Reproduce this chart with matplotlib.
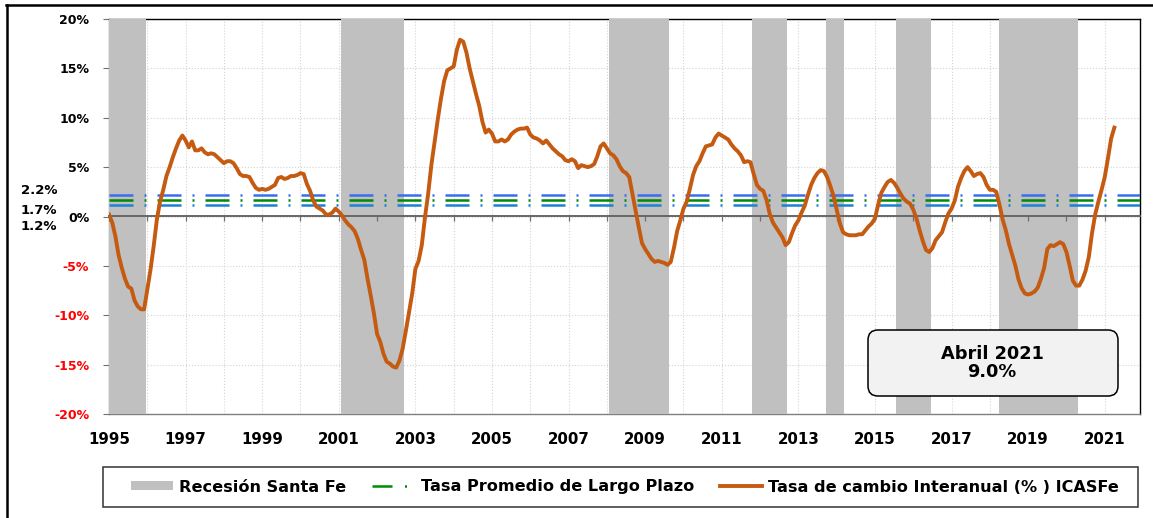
import matplotlib
matplotlib.use('Agg')
import matplotlib.pyplot as plt
import numpy as np
from matplotlib.patches import Patch, FancyBboxPatch, Rectangle
from matplotlib.lines import Line2D
from matplotlib.transforms import IdentityTransform

# ---------------- data ----------------
start_year = 1995
icasfe_1995_2000 = [0.2, -0.6, -2.0, -3.9, -5.2, -6.3, -7.1, -7.3, -8.5, -9.1, -9.4, -9.4,
                    -7.4, -5.4, -3.0, -0.3, 1.5, 2.7, 4.1, 5.0, 6.0, 6.9, 7.7, 8.2,
                    7.7, 7.0, 7.6, 6.7, 6.7, 6.9, 6.5, 6.3, 6.4, 6.3, 6.0, 5.7,
                    5.4, 5.6, 5.6, 5.4, 4.9, 4.3, 4.1, 4.1, 4.0, 3.4, 2.9, 2.7,
                    2.8, 2.7, 2.8, 3.0, 3.2, 3.9, 4.0, 3.8, 3.9, 4.1, 4.1, 4.2,
                    4.4, 4.3, 3.3, 2.6, 1.6, 1.0, 0.8, 0.6, 0.2, 0.2, 0.4, 0.8]
icasfe_2001_2006 = [0.5, 0.1, -0.4, -0.8, -1.1, -1.5, -2.3, -3.4, -4.4, -6.3, -8.0, -9.8,
                    -11.9, -12.7, -13.9, -14.7, -14.9, -15.2, -15.3, -14.6, -13.4, -11.6, -9.7, -7.8,
                    -5.3, -4.5, -2.9, -0.1, 2.3, 5.2, 7.5, 9.8, 11.9, 13.7, 14.8, 15.0,
                    15.2, 16.9, 17.9, 17.7, 16.6, 15.0, 13.7, 12.4, 11.2, 9.6, 8.5, 8.8,
                    8.4, 7.6, 7.6, 7.8, 7.6, 7.8, 8.3, 8.6, 8.8, 8.9, 8.9, 9.0,
                    8.3, 8.0, 7.9, 7.7, 7.4, 7.7, 7.3, 6.9, 6.6, 6.3, 6.1, 5.7]
icasfe_2007_2012 = [5.6, 5.8, 5.6, 4.9, 5.2, 5.1, 5.0, 5.1, 5.3, 6.1, 7.1, 7.4,
                    6.9, 6.4, 6.2, 5.8, 5.1, 4.6, 4.4, 4.0, 2.3, 0.6, -1.1, -2.7,
                    -3.3, -3.8, -4.3, -4.6, -4.5, -4.6, -4.7, -4.9, -4.6, -3.2, -1.5, -0.4,
                    0.8, 1.5, 2.8, 4.2, 5.1, 5.6, 6.4, 7.1, 7.2, 7.3, 8.0, 8.4,
                    8.2, 8.0, 7.8, 7.3, 6.9, 6.6, 6.2, 5.5, 5.6, 5.5, 4.3, 3.2,
                    2.8, 2.6, 1.7, 0.3, -0.6, -1.1, -1.6, -2.1, -2.9, -2.6, -1.7, -0.9]
icasfe_2013_2021 = [-0.4, 0.4, 1.1, 2.2, 3.2, 3.9, 4.4, 4.7, 4.6, 4.0, 3.1, 2.1,
                    0.7, -0.7, -1.6, -1.8, -1.9, -1.9, -1.9, -1.8, -1.8, -1.4, -1.0, -0.7,
                    -0.2, 1.2, 2.4, 3.0, 3.5, 3.7, 3.4, 2.9, 2.3, 1.8, 1.5, 1.3,
                    0.7, -0.2, -1.4, -2.5, -3.4, -3.6, -3.2, -2.4, -2.0, -1.6, -0.6, 0.3,
                    0.8, 1.6, 3.0, 3.9, 4.6, 5.0, 4.6, 4.1, 4.3, 4.4, 4.0, 3.2,
                    2.7, 2.7, 2.5, 1.2, -0.3, -1.4, -2.8, -3.9, -5.0, -6.4, -7.3, -7.8,
                    -7.9, -7.8, -7.6, -7.2, -6.3, -5.2, -3.3, -2.9, -3.0, -2.8, -2.6, -2.8,
                    -3.6, -5.0, -6.5, -7.0, -7.0, -6.4, -5.5, -4.1, -1.7, 0.2, 1.5, 2.7,
                    4.0, 5.9, 7.9, 9.0]

recession_starts = [1995.0, 2001.07, 2008.05, 2011.79, 2013.71, 2015.55, 2018.23]
recession_ends = [1995.96, 2002.70, 2009.62, 2012.71, 2014.20, 2016.45, 2020.29]

avg_rates = [2.2, 1.7, 1.2]
avg_labels = ['2.2%', '1.7%', '1.2%']
avg_colors = ['#3a6df2', '#008c00', '#1f7fd4']

y_ticks = [-20, -15, -10, -5, 0, 5, 10, 15, 20]
x_years = list(range(1995, 2022))

legend_labels = ['Recesión Santa Fe', 'Tasa Promedio de Largo Plazo',
                 'Tasa de cambio Interanual (% ) ICASFe']
box_text = 'Abril 2021\n9.0%'

# ---------------- figure ----------------
W, H = 1153, 518
fig = plt.figure(figsize=(W / 100, H / 100), dpi=100)
fig.patch.set_facecolor('white')
ax = fig.add_axes([109 / W, 1 - 414 / H, (1140 - 109) / W, (414 - 19) / H])

icasfe = np.array(icasfe_1995_2000 + icasfe_2001_2006 + icasfe_2007_2012 + icasfe_2013_2021)
dates = start_year + np.arange(len(icasfe)) / 12.0

orange = '#c55a11'
shade = '#c0c0c0'

for s, e in zip(recession_starts, recession_ends):
    ax.axvspan(s, e, color=shade, lw=0, zorder=2.6)

dash_style = (0, (9.6, 4.4, 0.8, 4.4))
for r, c in zip(avg_rates, avg_colors):
    ax.axhline(r, color=c, lw=1.8, linestyle=dash_style, zorder=3)

ax.plot(dates, icasfe, color=orange, lw=2.8, zorder=5, solid_joinstyle='round')

ax.set_xlim(1995, 2021.92)
ax.set_ylim(-20, 20)

ax.set_yticks(y_ticks)
ax.set_yticklabels([f'{v}%' for v in y_ticks])
for lab, v in zip(ax.get_yticklabels(), y_ticks):
    lab.set_color('#ff0000' if v < 0 else 'black')
    lab.set_fontweight('bold')
    lab.set_fontsize(9)
ax.tick_params(axis='y', direction='out', length=4.3, width=0.8, color='#707070', pad=10)

ax.set_xticks(x_years)
ax.set_xticklabels([str(y) if (y - 1995) % 2 == 0 else '' for y in x_years],
                   fontweight='bold', fontsize=10.8)
ax.tick_params(axis='x', length=0, pad=13)

ax.set_axisbelow(True)
ax.grid(True, color='#d4d4d4', linestyle=':', lw=0.8)

for side in ['left', 'bottom']:
    ax.spines[side].set_color('#808080')
    ax.spines[side].set_linewidth(1.0)
ax.spines['top'].set_color('black')
ax.spines['right'].set_color('black')
ax.spines['top'].set_linewidth(1.0)
ax.spines['right'].set_linewidth(1.0)

# zero line with year tick marks
sec = ax.secondary_xaxis(0.5)
sec.set_alignment('bottom')
sec.set_xticks(x_years)
sec.tick_params(axis='x', direction='out', length=3.6, width=0.9, color='#707070',
                labelbottom=False, labeltop=False)
sec.spines['bottom'].set_color('#666666')
sec.spines['bottom'].set_linewidth(1.4)
sec.set_zorder(4)

# left labels for average rates
for lbl, ypx in zip(avg_labels, [191, 210, 226]):
    fig.text(57 / W, 1 - ypx / H, lbl, ha='right', va='center',
             fontweight='bold', fontsize=9.5, color='black')

# annotation box
box = FancyBboxPatch((868, H - 396), 250, 66,
                     boxstyle='round,pad=0,rounding_size=10',
                     transform=IdentityTransform(), facecolor='#f2f2f2',
                     edgecolor='black', lw=1.1, zorder=10)
fig.add_artist(box)
fig.text(992 / W, 1 - 363 / H, box_text, ha='center', va='center',
         fontweight='bold', fontsize=12.8, linespacing=1.05, zorder=11)

# legend frame + legend
frame = Rectangle((103, H - 507), 1035, 40, transform=IdentityTransform(),
                  facecolor='white', edgecolor='#333333', lw=1.1, zorder=1)
fig.add_artist(frame)
handles = [Patch(facecolor=shade, edgecolor='none'),
           Line2D([], [], color='#008c00', lw=1.8, linestyle=(0, (8, 5, 0.8, 5))),
           Line2D([], [], color=orange, lw=2.8)]
leg = fig.legend(handles, legend_labels, loc='center', bbox_to_anchor=(625 / W, 1 - 487 / H),
                 ncol=3, frameon=False, prop={'weight': 'bold', 'size': 11.6},
                 handlelength=2.6, handleheight=0.5, handletextpad=0.4, columnspacing=1.6)
leg.set_zorder(12)

# outer border (top and left)
fig.add_artist(Line2D([6, W], [H - 5, H - 5], transform=IdentityTransform(), color='black', lw=1.8))
fig.add_artist(Line2D([7, 7], [0, H - 5], transform=IdentityTransform(), color='black', lw=1.8))

fig.savefig('out.png', dpi=100)
